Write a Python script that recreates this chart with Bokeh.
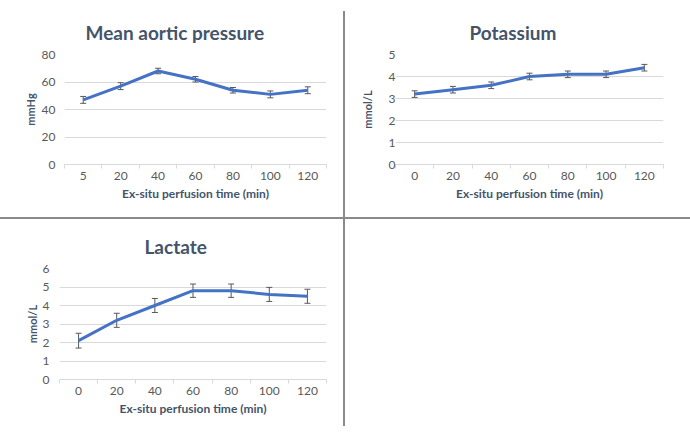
from bokeh.plotting import figure
from bokeh.layouts import row, column
from bokeh.models import (Range1d, FixedTicker, ColumnDataSource, Whisker, TeeHead,
                          Title, Spacer)
from bokeh.embed import file_html
from bokeh.resources import INLINE

# ---- data ----
aortic_times = ["5", "20", "40", "60", "80", "100", "120"]
aortic_mean = [47, 57, 68, 62, 54, 51, 54]
aortic_err = [2.5, 2.5, 2, 2, 2, 2.5, 2.5]

potassium_times = ["0", "20", "40", "60", "80", "100", "120"]
potassium_mean = [3.2, 3.4, 3.6, 4.0, 4.1, 4.1, 4.4]
potassium_err = [0.15, 0.15, 0.15, 0.15, 0.15, 0.15, 0.15]

lactate_times = ["0", "20", "40", "60", "80", "100", "120"]
lactate_mean = [2.1, 3.2, 4.0, 4.8, 4.8, 4.6, 4.5]
lactate_err = [0.4, 0.38, 0.38, 0.36, 0.36, 0.38, 0.38]

FONT = "Lato"
TITLE_C = "#44546A"
TICK_C = "#595959"
GRID_C = "#D9D9D9"
LINE_C = "#4472C4"
ERR_C = "#595959"
DIV_C = "#8A8A8A"


def panel(title, toff, times, mean, err, ymax, ystep, ylabel, width, height,
          left, right, top, bottom, ystand, ytitle_stand):
    n = len(times)
    xs = [i + 0.5 for i in range(n)]
    p = figure(width=width, height=height, output_backend="svg", toolbar_location=None,
               x_range=Range1d(0, n), y_range=Range1d(0, ymax),
               min_border_left=left, min_border_right=right,
               min_border_top=top, min_border_bottom=bottom)
    p.outline_line_color = None
    p.background_fill_color = "white"
    p.border_fill_color = "white"

    # x axis
    xa = p.xaxis[0]
    xa.ticker = FixedTicker(ticks=xs, minor_ticks=list(range(n + 1)))
    xa.major_label_overrides = {x: t for x, t in zip(xs, times)}
    xa.major_tick_out = 0
    xa.major_tick_in = 0
    xa.minor_tick_out = 4
    xa.minor_tick_in = 0
    xa.minor_tick_line_color = GRID_C
    xa.axis_line_color = GRID_C
    xa.major_label_text_font = FONT
    xa.major_label_text_font_size = "12px"
    xa.major_label_text_color = TICK_C
    xa.major_label_standoff = 3
    xa.axis_label = "Ex-situ perfusion time (min)"
    xa.axis_label_text_font = FONT
    xa.axis_label_text_font_size = "12px"
    xa.axis_label_text_font_style = "bold"
    xa.axis_label_text_color = TITLE_C
    xa.axis_label_standoff = 3

    # y axis
    ya = p.yaxis[0]
    ya.ticker = FixedTicker(ticks=[v * ystep for v in range(int(round(ymax / ystep)) + 1)])
    ya.axis_line_color = None
    ya.major_tick_line_color = None
    ya.minor_tick_line_color = None
    ya.major_tick_out = 0
    ya.major_tick_in = 0
    ya.minor_tick_out = 0
    ya.minor_tick_in = 0
    ya.major_label_text_font = FONT
    ya.major_label_text_font_size = "12px"
    ya.major_label_text_color = TICK_C
    ya.major_label_standoff = ystand
    ya.axis_label = ylabel
    ya.axis_label_text_font = FONT
    ya.axis_label_text_font_size = "11px"
    ya.axis_label_text_font_style = "bold"
    ya.axis_label_text_color = TITLE_C
    ya.axis_label_standoff = ytitle_stand

    p.xgrid.grid_line_color = None
    p.ygrid.grid_line_color = GRID_C
    p.ygrid.ticker = ya.ticker

    src = ColumnDataSource(dict(x=xs, y=mean,
                                lo=[m - e for m, e in zip(mean, err)],
                                hi=[m + e for m, e in zip(mean, err)]))
    p.line("x", "y", source=src, line_color=LINE_C, line_width=3)
    w = Whisker(source=src, base="x", lower="lo", upper="hi",
                line_color=ERR_C, line_width=1,
                upper_head=TeeHead(size=6, line_color=ERR_C, line_width=1),
                lower_head=TeeHead(size=6, line_color=ERR_C, line_width=1))
    p.add_layout(w)

    p.add_layout(Title(text=title, align="left", offset=toff, standoff=22,
                       text_font=FONT, text_font_size="19px", text_font_style="bold",
                       text_color=TITLE_C), "above")
    return p


p1 = panel("Mean aortic pressure", 21, aortic_times, aortic_mean, aortic_err, 80, 20,
           "mmHg", 343, 217, 64, 17, 54, 53, 9, 2)
p2 = panel("Potassium", 74, potassium_times, potassium_mean, potassium_err, 5, 1,
           "mmol/L", 345, 217, 50, 27, 54, 53, 0, 12)
p3 = panel("Lactate", 85, lactate_times, lactate_mean, lactate_err, 6, 1,
           "mmol/L", 343, 218, 59, 17, 49, 58, 10, 1)

vdiv1 = Spacer(width=2, height=217,
               styles={"background": f"linear-gradient(to bottom, white 11px, {DIV_C} 11px)"})
vdiv2 = Spacer(width=2, height=218,
               styles={"background": f"linear-gradient(to bottom, {DIV_C} 207px, white 207px)"})
hdiv = Spacer(width=690, height=2, styles={"background-color": DIV_C})
blank = Spacer(width=345, height=218)

layout = column(row(p1, vdiv1, p2), hdiv, row(p3, vdiv2, blank))

open("out.html", "w").write(file_html(layout, INLINE))
